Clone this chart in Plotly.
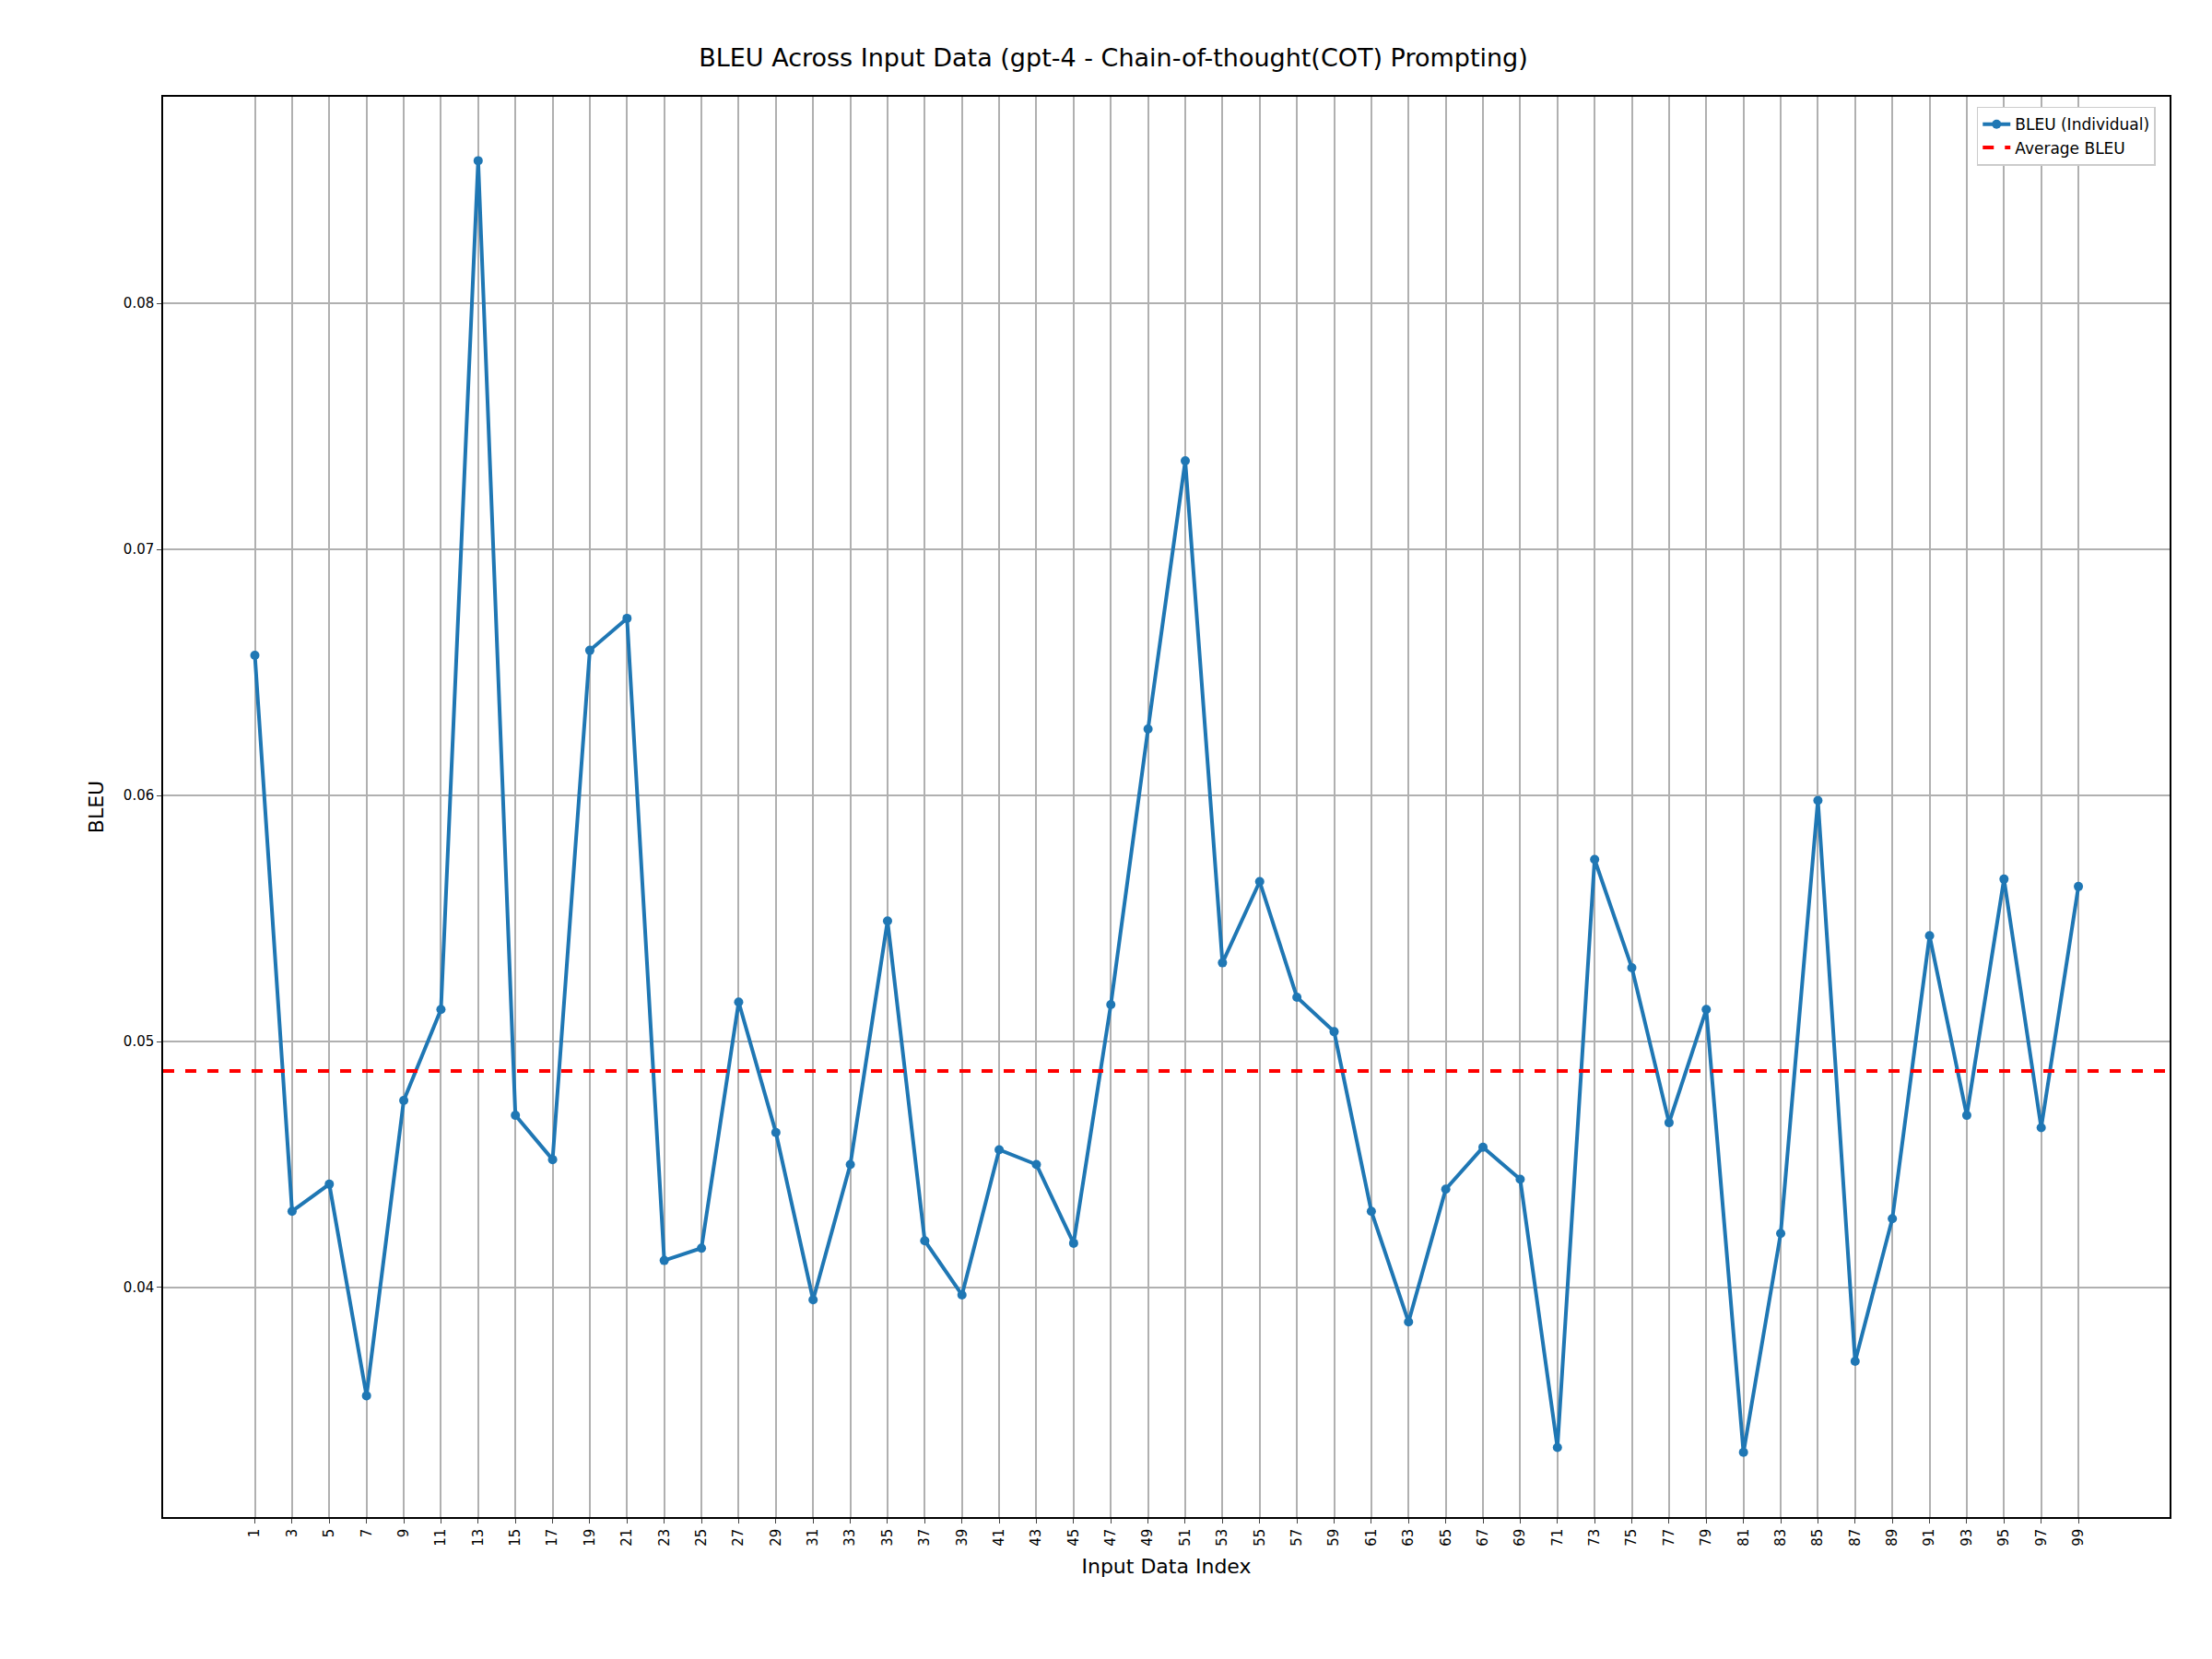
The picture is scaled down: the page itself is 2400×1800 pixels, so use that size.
import plotly.graph_objects as go

# --- Data ---
indices = list(range(1, 100, 2))
bleu = [0.0657, 0.0431, 0.0442, 0.0356, 0.0476, 0.0513, 0.0858, 0.0470, 0.0452, 0.0659,
        0.0672, 0.0411, 0.0416, 0.0516, 0.0463, 0.0395, 0.0450, 0.0549, 0.0419, 0.0397,
        0.0456, 0.0450, 0.0418, 0.0515, 0.0627, 0.0736, 0.0532, 0.0565, 0.0518, 0.0504,
        0.0431, 0.0386, 0.0440, 0.0457, 0.0444, 0.0335, 0.0574, 0.0530, 0.0467, 0.0513,
        0.0333, 0.0422, 0.0598, 0.0370, 0.0428, 0.0543, 0.0470, 0.0566, 0.0465, 0.0563]
avg_bleu = 0.0488

fig = go.Figure()
fig.add_trace(go.Scatter(
    x=indices, y=bleu, mode='lines+markers', name='BLEU (Individual)',
    line=dict(color='#1f77b4', width=4), marker=dict(size=10, color='#1f77b4')))
fig.add_trace(go.Scatter(
    x=[-3.93, 103.9], y=[avg_bleu, avg_bleu], mode='lines', name='Average BLEU',
    line=dict(color='red', width=4, dash='dash')))

fig.update_layout(
    width=2400, height=1800,
    margin=dict(l=169, r=54, t=97, b=162),
    paper_bgcolor='white', plot_bgcolor='white',
    font=dict(family='DejaVu Sans', color='black'),
    title=dict(text='BLEU Across Input Data (gpt-4 - Chain-of-thought(COT) Prompting)',
               x=0.5, xanchor='center', y=0.975, font=dict(size=27)),
    legend=dict(x=0.993, y=0.993, xanchor='right', yanchor='top',
                bordercolor='#cccccc', borderwidth=1.5, font=dict(size=17)),
)
fig.update_xaxes(
    title=dict(text='Input Data Index', font=dict(size=22)),
    range=[-3.93, 103.9], tickvals=indices, ticktext=[str(i) for i in indices],
    tickangle=-90, tickfont=dict(size=15), showgrid=True, gridcolor='#b0b0b0', gridwidth=1.5,
    showline=True, linecolor='black', linewidth=1.5, mirror=True,
    ticks='outside', ticklen=5, zeroline=False)
fig.update_yaxes(
    title=dict(text='BLEU', font=dict(size=22)),
    range=[0.03067, 0.0884], tickvals=[0.04, 0.05, 0.06, 0.07, 0.08],
    tickformat='.2f', tickfont=dict(size=15), showgrid=True, gridcolor='#b0b0b0', gridwidth=1.5,
    showline=True, linecolor='black', linewidth=1.5, mirror=True,
    ticks='outside', ticklen=5, zeroline=False)

fig.write_html("out.html")
